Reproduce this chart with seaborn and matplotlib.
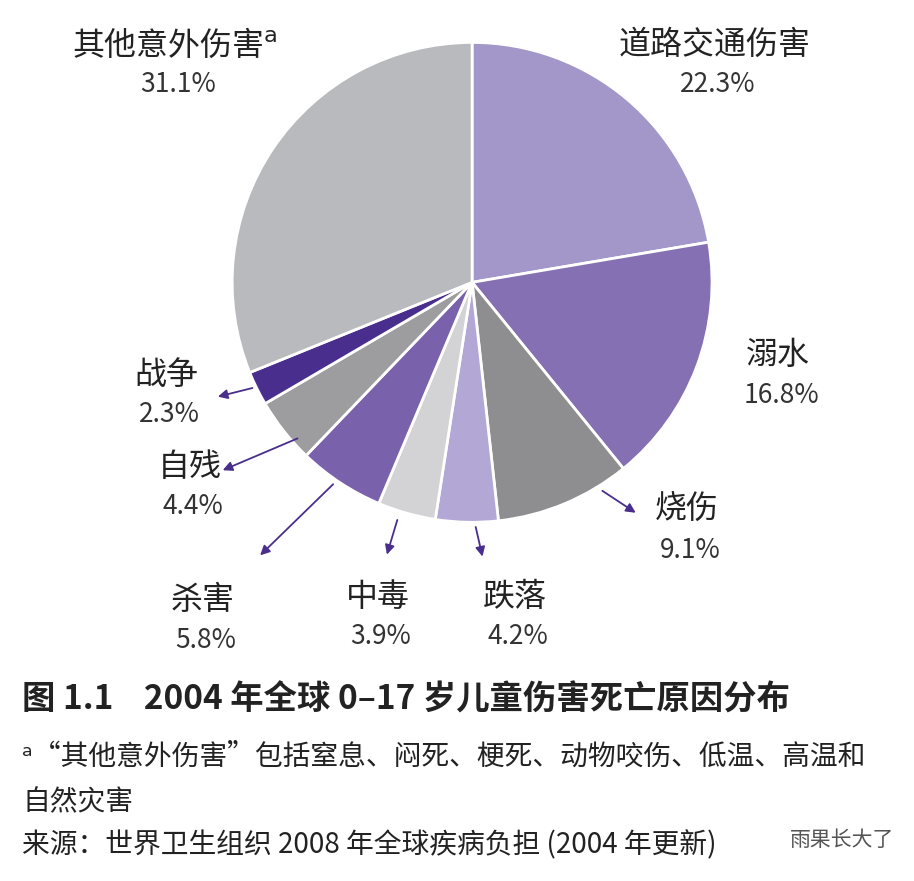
import matplotlib
matplotlib.use("Agg")
import matplotlib.pyplot as plt
import seaborn as sns

# data
causes = ["道路交通伤害", "溺水", "烧伤", "跌落", "中毒", "杀害", "自残", "战争", "其他意外伤害"]
shares = [22.3, 16.8, 9.1, 4.2, 3.9, 5.8, 4.4, 2.3, 31.1]
colors = ["#a396c9", "#8470b2", "#8e8e91", "#b3a7d5", "#d3d3d5", "#7a61ac", "#9d9da0", "#4a2e8d", "#b9babd"]

sns.set_style("white")
plt.rcParams['font.family'] = ['Noto Sans CJK SC', 'DejaVu Sans']

fig = plt.figure(figsize=(9.14, 8.81), dpi=100)
ax = fig.add_axes([0.254, 0.407, 0.525, 0.545])
ax.pie(shares, colors=colors, startangle=90, counterclock=False,
       wedgeprops=dict(edgecolor="white", linewidth=2))
ax.set_xlim(-1, 1)
ax.set_ylim(-1, 1)
ax.set_aspect("equal")
ax.axis("off")


def d(x, y):
    # pixel position in the picture -> pie data coordinates
    return ((x - 472) / 240, (283 - y) / 240)


# arrows for the small slices
arrows = [((600, 490), (638, 515)), ((475, 525), (483, 560)), ((398, 518), (386, 558)),
          ((335, 483), (258, 558)), ((300, 438), (220, 472)), ((255, 388), (215, 398))]
for start, end in arrows:
    ax.annotate("", xy=d(*end), xytext=d(*start), annotation_clip=False,
                arrowprops=dict(arrowstyle="-|>", color="#4a2e8d", lw=1.3, mutation_scale=14))

label_pos = {"道路交通伤害": (715, 45), "溺水": (778, 355), "烧伤": (687, 510), "跌落": (515, 597),
             "中毒": (378, 597), "杀害": (203, 600), "自残": (190, 467), "战争": (166, 375),
             "其他意外伤害": (175, 45)}


def ft(x, y, s, **kw):
    fig.text(x / 914, 1 - y / 881, s, **kw)


for name, val in zip(causes, shares):
    x, y = label_pos[name]
    text = name + ("$^{\\mathrm{a}}$" if name == "其他意外伤害" else "")
    ft(x, y, text, ha="center", va="center", fontsize=23, color="#222222")
    ft(x + 3, y + 40, f"{val}%", ha="center", va="center", fontsize=19, color="#333333")

ft(22, 700, "图 1.1    2004 年全球 0–17 岁儿童伤害死亡原因分布", ha="left", va="center",
   fontsize=24, fontweight="bold", color="#222222")
ft(22, 757, "ᵃ“其他意外伤害”包括窒息、闷死、梗死、动物咬伤、低温、高温和", ha="left", va="center",
   fontsize=20, color="#222222")
ft(22, 802, "自然灾害", ha="left", va="center", fontsize=20, color="#222222")
ft(22, 845, "来源：世界卫生组织 2008 年全球疾病负担 (2004 年更新)", ha="left", va="center",
   fontsize=20, color="#222222")
ft(790, 840, "雨果长大了", ha="left", va="center", fontsize=15, color="#555555")

fig.savefig("out.png", dpi=100, facecolor="white")
